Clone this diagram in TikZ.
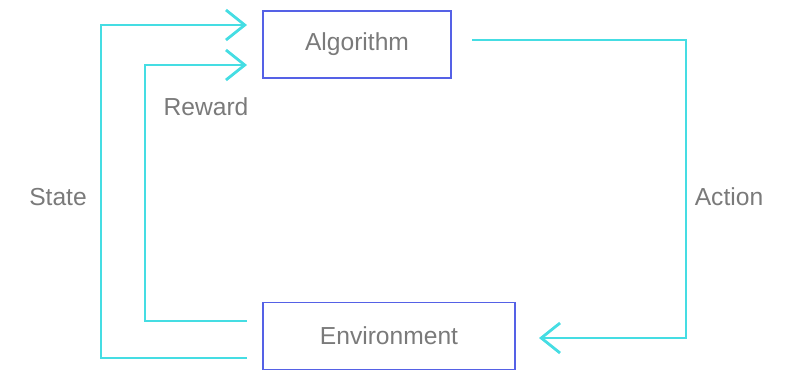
\documentclass[tikz,border=0pt]{standalone}
\usepackage{fontspec}
\setmainfont{Liberation Sans}
\usepackage{xcolor}
\usepackage{tikz}
\usetikzlibrary{arrows.meta}
\usetikzlibrary{positioning}

\definecolor{loopcyan}{HTML}{45DDE3}
\definecolor{boxblue}{HTML}{5561E6}
\definecolor{labelgray}{HTML}{7A7A7A}

\begin{document}
\begin{tikzpicture}[
	x=0.025cm, y=-0.025cm,
	font=\fontsize{17.5}{21}\selectfont,
	>={Straight Barb[length=0.47cm, width=0.75cm, line width=2pt]}
]
\tikzset{
    boxnode/.style = {rectangle, draw=boxblue, line width=0.9pt, text=labelgray, minimum height=1.675cm},
		flowline/.style = {draw=loopcyan, line width=2pt, ->},
		edgelabel/.style = {text=labelgray, inner sep=0pt}
}
\useasboundingbox (0,0) rectangle (790,370);
\node[boxnode, minimum width=4.7cm] (algo) at (357,44.5) {Algorithm};
\node[boxnode, minimum width=6.3cm] (env) at (389,336) {Environment};
% free ends of the loops
\coordinate (actstart) at (472,40);
\coordinate (stateout) at (247,358);
\coordinate (rewout) at (247,321);
\coordinate (statein) at (247,25);
\coordinate (rewin) at (247,65);
\coordinate (actin) at (539,338);
% action
\draw[flowline] (actstart) -- (686,40) -- (686,338) -- (actin);
% state
\draw[flowline] (stateout) -- (101,358) -- (101,25) -- (statein);
% reward
\draw[flowline] (rewout) -- (145,321) -- (145,65) -- (rewin);
\node[edgelabel] (statelbl) at (58,197) {State};
\node[edgelabel] (rewlbl) at (206,107) {Reward};
\node[edgelabel] (actlbl) at (729,197) {Action};
\end{tikzpicture}
\end{document}
